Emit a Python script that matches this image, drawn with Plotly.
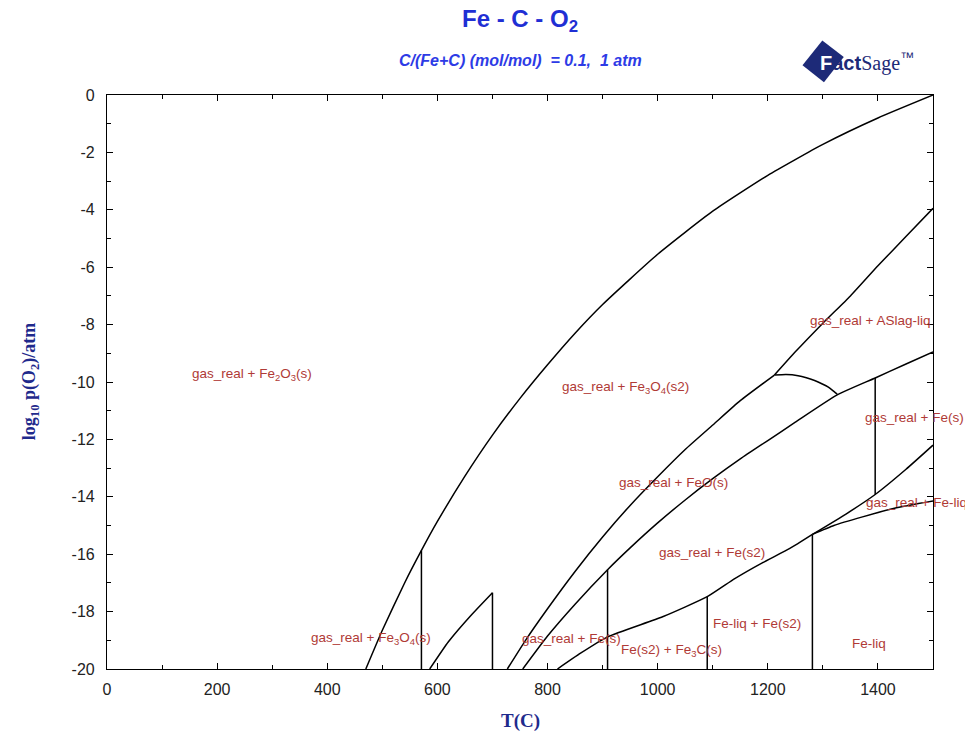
import plotly.graph_objects as go

# ---- data (T in °C, log10 p(O2)/atm) ----
curveA_T = [470, 500, 540, 571, 600, 650, 700, 750, 800, 850, 900, 1000, 1100, 1200, 1300, 1400, 1500]
curveA_y = [-20, -18.65, -17.02, -15.87, -14.86, -13.28, -11.85, -10.57, -9.40, -8.30, -7.30, -5.55, -4.05, -2.80, -1.72, -0.80, 0]

curveB_T = [727, 760, 800, 850, 900, 950, 1000, 1050, 1100, 1150, 1212]
curveB_y = [-20, -19.0, -17.9, -16.6, -15.4, -14.3, -13.3, -12.35, -11.5, -10.65, -9.76]

slag_T = [1212, 1250, 1300, 1350, 1400, 1450, 1500]
slag_y = [-9.76, -8.95, -7.95, -7.0, -5.95, -4.95, -3.95]

arc_T = [1212, 1233, 1255, 1270, 1285, 1299, 1310, 1317, 1326]
arc_y = [-9.76, -9.74, -9.78, -9.85, -9.95, -10.07, -10.18, -10.28, -10.42]

curveC_T = [755, 800, 850, 909, 950, 1000, 1050, 1100, 1150, 1200, 1250, 1326, 1395, 1450, 1500]
curveC_y = [-20, -18.85, -17.74, -16.54, -15.78, -14.91, -14.11, -13.37, -12.68, -12.04, -11.4, -10.45, -9.86, -9.38, -8.95]

curveD_T = [818, 860, 909, 1009, 1090, 1140, 1190, 1240, 1281]
curveD_y = [-20, -19.45, -18.88, -18.18, -17.48, -16.85, -16.3, -15.8, -15.31]

upper_T = [1281, 1342, 1395, 1451, 1500]
upper_y = [-15.31, -14.6, -13.92, -13.04, -12.2]

lower_T = [1281, 1320, 1372, 1430, 1500]
lower_y = [-15.31, -15.0, -14.7, -14.4, -14.15]

tri_T = [586, 620, 660, 700]
tri_y = [-20, -19.05, -18.15, -17.34]

vert_T = [571, 700, 909, 1090, 1281, 1395]
vert_top = [-15.87, -17.34, -16.54, -17.48, -15.31, -9.86]
vert_bot = [-20, -20, -20, -20, -20, -13.92]

label_text = [
    "gas_real + Fe<sub>2</sub>O<sub>3</sub>(s)",
    "gas_real + ASlag-liq",
    "gas_real + Fe<sub>3</sub>O<sub>4</sub>(s2)",
    "gas_real + Fe(s)",
    "gas_real + FeO(s)",
    "gas_real + Fe-liq",
    "gas_real + Fe(s2)",
    "gas_real + Fe<sub>3</sub>O<sub>4</sub>(s)",
    "gas_real + Fe(s)",
    "Fe(s2) + Fe<sub>3</sub>C(s)",
    "Fe-liq + Fe(s2)",
    "Fe-liq",
]
label_T = [263, 1386, 941, 1466, 1029, 1470, 1098, 479, 843, 1025, 1181, 1384]
label_y = [-9.75, -7.87, -10.2, -11.22, -13.5, -14.2, -15.94, -18.92, -18.92, -19.34, -18.43, -19.1]

x_ticks = [0, 200, 400, 600, 800, 1000, 1200, 1400]
y_ticks = [0, -2, -4, -6, -8, -10, -12, -14, -16, -18, -20]

# ---- figure ----
fig = go.Figure()
line_style = dict(color="black", width=1.5)

for xs, ys in [(curveA_T, curveA_y), (curveB_T, curveB_y), (slag_T, slag_y), (arc_T, arc_y),
               (curveC_T, curveC_y), (curveD_T, curveD_y), (upper_T, upper_y),
               (lower_T, lower_y), (tri_T, tri_y)]:
    fig.add_trace(go.Scatter(x=xs, y=ys, mode="lines",
                             line=dict(color="black", width=1.5, shape="spline", smoothing=0.5),
                             showlegend=False, hoverinfo="skip"))

for t, top, bot in zip(vert_T, vert_top, vert_bot):
    fig.add_trace(go.Scatter(x=[t, t], y=[top, bot], mode="lines", line=line_style,
                             showlegend=False, hoverinfo="skip"))

annotations = []
for txt, t, yv in zip(label_text, label_T, label_y):
    annotations.append(dict(x=t, y=yv, xref="x", yref="y", text=txt, showarrow=False,
                            font=dict(family="Arial, Liberation Sans", size=13.5, color="#b03a36")))

blue = "#1f2fd4"
annotations += [
    dict(x=0.5, y=1.13, xref="paper", yref="paper", text="<b>Fe - C - O<sub>2</sub></b>", showarrow=False,
         font=dict(family="Arial, Liberation Sans", size=24, color=blue), xanchor="center", yanchor="middle"),
    dict(x=0.5, y=1.06, xref="paper", yref="paper", text="<b><i>C/(Fe+C) (mol/mol)  = 0.1,  1 atm</i></b>",
         showarrow=False, font=dict(family="Arial, Liberation Sans", size=16, color="#2d3be6"),
         xanchor="center", yanchor="middle"),
    dict(x=0.92, y=1.058, xref="paper", yref="paper",
         text="<b><span style='color:white'>F</span>act</b><span style='font-family:Liberation Serif'>Sage</span><sup>™</sup>",
         showarrow=False, font=dict(family="Arial, Liberation Sans", size=20, color="#1d2a78"),
         xanchor="center", yanchor="middle"),
    dict(x=0.5, y=-0.09, xref="paper", yref="paper", text="<b>T(C)</b>", showarrow=False,
         font=dict(family="Liberation Serif, Times New Roman", size=19, color="#1f2a8c"),
         xanchor="center", yanchor="middle"),
    dict(x=-0.093, y=0.5, xref="paper", yref="paper", text="<b>log<sub>10</sub> p(O<sub>2</sub>)/atm</b>",
         showarrow=False, textangle=-90,
         font=dict(family="Liberation Serif, Times New Roman", size=18, color="#1f2a8c"),
         xanchor="center", yanchor="middle"),
]

axis_common = dict(showline=True, linecolor="black", linewidth=1.2, mirror="ticks",
                   ticks="inside", ticklen=6, tickcolor="black", showgrid=False, zeroline=False,
                   tickfont=dict(family="Arial, Liberation Sans", size=16, color="#222222"))

fig.update_layout(
    width=965, height=739,
    margin=dict(l=107, r=32, t=95, b=70),
    paper_bgcolor="white", plot_bgcolor="white",
    annotations=annotations,
    xaxis=dict(range=[0, 1500], tickvals=x_ticks, ticktext=[str(v) for v in x_ticks],
               minor=dict(dtick=100, ticks="inside", ticklen=4, tickcolor="black"),
               ticklabelstandoff=6, **axis_common),
    yaxis=dict(range=[-20, 0], tickvals=y_ticks, ticktext=[str(v) for v in y_ticks],
               minor=dict(dtick=1, ticks="inside", ticklen=4, tickcolor="black"),
               ticklabelstandoff=8, **axis_common),
)

# logo mark (tilted square) behind the "F"
fig.add_shape(type="path", xref="paper", yref="paper",
              path="M 0.842 1.052 L 0.866 1.095 L 0.892 1.066 L 0.868 1.022 Z",
              fillcolor="#1d2a78", line=dict(width=0), layer="below")

fig.write_html("out.html")
